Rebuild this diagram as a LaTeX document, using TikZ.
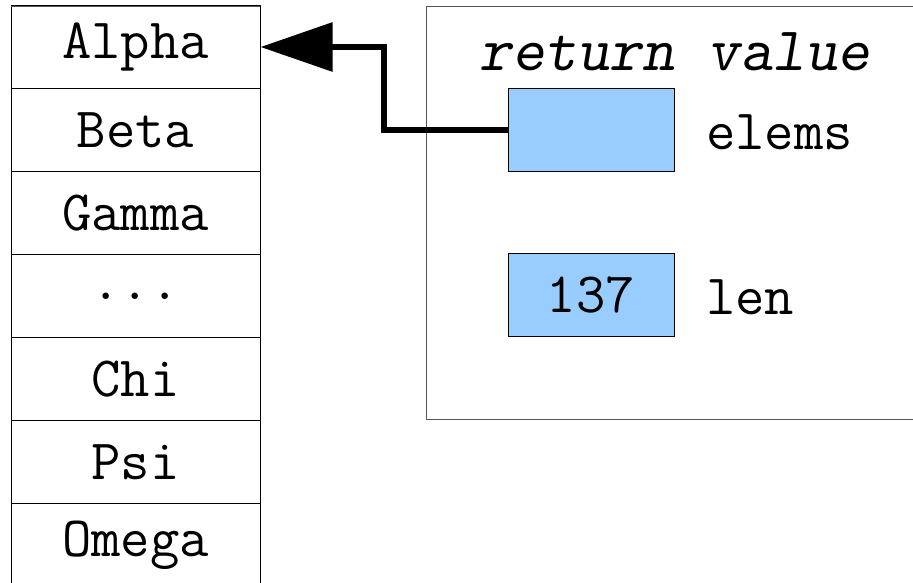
\documentclass[tikz,border=0pt]{standalone}
\usepackage{fontspec}
\usetikzlibrary{arrows.meta}
\definecolor{cellblue}{HTML}{99CCFF}
\definecolor{framegray}{HTML}{555555}
\tikzset{
  cell/.style={draw=black, line width=1pt, minimum width=249pt, minimum height=83pt, inner sep=0pt, font=\fontsize{57}{57}\selectfont\ttfamily},
  field/.style={draw=black, line width=1pt, fill=cellblue, minimum width=166pt, minimum height=83pt, inner sep=0pt, font=\fontsize{57}{57}\selectfont\ttfamily},
  lbl/.style={anchor=west, inner sep=0pt, font=\fontsize{57}{57}\selectfont\ttfamily},
  ptr/.style={line width=6pt, -{Triangle[length=72pt,width=48pt]}}
}
\begin{document}
\begin{tikzpicture}[x=1pt,y=-1pt]
\useasboundingbox (0,0) rectangle (913,582);
\fill[white] (0,0) rectangle (913,582);
% left column
\node[cell] (c1) at (135.5,47) {Alpha};
\node[cell] (c2) at (135.5,130) {Beta};
\node[cell] (c3) at (135.5,213) {Gamma};
\node[cell] (c4) at (135.5,296) {...};
\node[cell] (c5) at (135.5,379) {Chi};
\node[cell] (c6) at (135.5,462) {Psi};
\node[cell] (c7) at (135.5,545) {Omega};
\draw[framegray, line width=1pt] (11,6) -- (260,6);
% return value frame
\node[draw=framegray, line width=1pt, minimum width=520pt, minimum height=413pt, inner sep=0pt] (rv) at (686,212.5) {};
\node[inner sep=0pt, font=\fontsize{62}{62}\selectfont\ttfamily\slshape] (title) at (675,52) {return value};
\node[field] (elems) at (591,130) {};
\node[lbl] (elemsl) at (706,132) {elems};
\node[field] (len) at (591,295) {137};
\node[lbl] (lenl) at (706,297) {len};
\coordinate (bend1) at (384,130);
\coordinate (bend2) at (384,47);
\draw[ptr] (elems.west) -- (bend1) -- (bend2) -- (c1.east);
\end{tikzpicture}
\end{document}
